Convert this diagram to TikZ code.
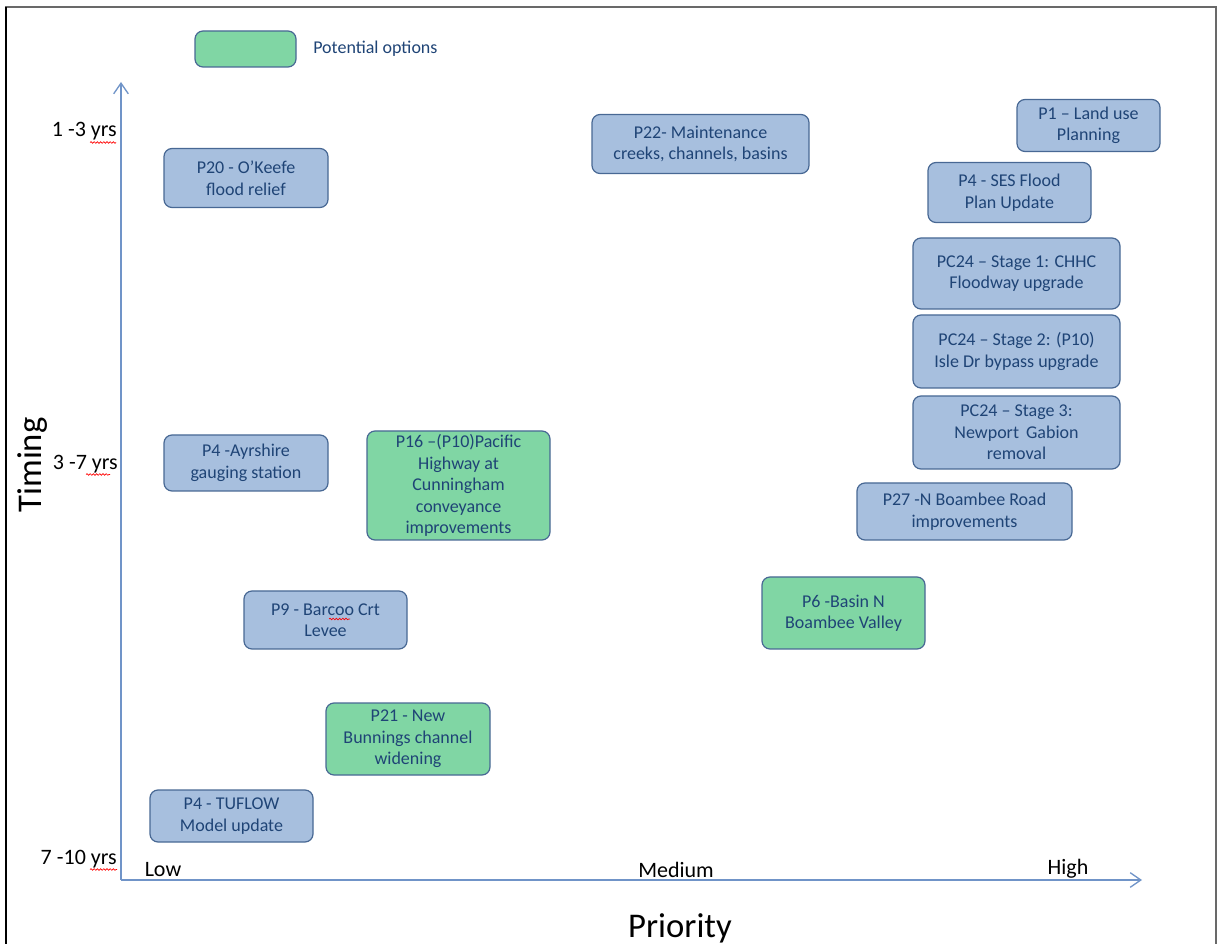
\documentclass[tikz,border=0pt]{standalone}
\usepackage{fontspec}
\setmainfont{Carlito}
\usetikzlibrary{arrows.meta,decorations.pathmorphing}

\definecolor{boxblue}{RGB}{167,191,222}
\definecolor{boxgreen}{RGB}{128,214,164}
\definecolor{boxline}{RGB}{72,104,148}
\definecolor{boxtext}{RGB}{31,68,118}
\definecolor{axisblue}{RGB}{112,148,200}
\definecolor{framegray}{RGB}{105,105,105}

\tikzset{
  optbox/.style={draw=boxline, line width=0.9pt, fill=boxblue, rounded corners=6pt,
    align=center, text=boxtext, inner sep=0pt, font=\fontsize{13.5}{16.1}\selectfont},
  potbox/.style={optbox, fill=boxgreen},
  axislbl/.style={inner sep=0pt, font=\fontsize{16.5}{19}\selectfont},
  axistitle/.style={inner sep=0pt, font=\fontsize{26}{30}\selectfont},
  axisline/.style={draw=axisblue, line width=1pt, -{Straight Barb[length=8pt,width=11pt]}},
  spell/.style={draw=red, line width=0.5pt, decorate,
    decoration={snake, amplitude=0.6pt, segment length=2.4pt}}
}

\begin{document}
\begin{tikzpicture}[x=0.75pt,y=0.75pt,yscale=-1,xscale=1]
\useasboundingbox (0,0) rectangle (1218,944);

%Frame
\draw [framegray, line width=1.5pt] (6,944) -- (6,7) -- (1216,7) -- (1216,944);
\draw [black, line width=1.5pt] (6,7) -- (6,944);

%Axes
\coordinate (origin) at (121,880);
\coordinate (ytip) at (121,82);
\coordinate (xtip) at (1142,880);
\draw [axisline] (origin) -- (ytip);
\draw [axisline] (origin) -- (xtip);

%Legend
\node [potbox, minimum width=75.75pt, minimum height=27pt] (legend) at (245.5,49) {};
\node [anchor=west, inner sep=0pt, text=boxtext, font=\fontsize{13.5}{16}\selectfont] (legendtxt) at (313,48.5) {Potential options};

% Text Node
\node [axislbl, anchor=east] (t13) at (117,131) {1 -3 yrs};
\node [axislbl, anchor=east] (t37) at (118,464) {3 -7 yrs};
\node [axislbl, anchor=east] (t710) at (117,859) {7 -10 yrs};
\node [axistitle, rotate=90] (timing) at (33,465) {Timing};
\node [axislbl] (low) at (163,870) {Low};
\node [axislbl] (medium) at (676,870) {Medium};
\node [axislbl] (high) at (1068,869) {High};
\node [axistitle] (priority) at (680,928) {Priority};

%spell check marks
\draw [spell] (90,142.5) -- (116,142.5);
\draw [spell] (86,474.5) -- (110,474.5);
\draw [spell] (90,869.5) -- (117,869.5);

%Options
\node [optbox, minimum width=123pt, minimum height=44.25pt] (p20) at (246,178) {P20 - O’Keefe\\flood relief};
\node [optbox, minimum width=162.75pt, minimum height=44.25pt] (p22) at (700.5,144) {P22- Maintenance\\creeks, channels, basins};
\node [optbox, minimum width=107.25pt, minimum height=39pt] (p1) at (1088.5,125.5) {P1 – Land use\\Planning};
\node [optbox, minimum width=122.25pt, minimum height=45pt] (p4ses) at (1009.5,192.5) {P4 - SES Flood\\Plan Update};
\node [optbox, minimum width=155.25pt, minimum height=53.25pt] (pc24a) at (1016.5,273.5) {PC24 – Stage 1: CHHC\\Floodway upgrade};
\node [optbox, minimum width=155.25pt, minimum height=54.75pt] (pc24b) at (1016.5,351.5) {PC24 – Stage 2: (P10)\\Isle Dr bypass upgrade};
\node [optbox, minimum width=155.25pt, minimum height=54.75pt] (pc24c) at (1016.5,432.5) {PC24 – Stage 3:\\Newport\, Gabion\\removal};
\node [optbox, minimum width=161.25pt, minimum height=42.75pt] (p27) at (964.5,511.5) {P27 -N Boambee Road\\improvements};
\node [potbox, minimum width=122.25pt, minimum height=54pt] (p6) at (843.5,613) {P6 -Basin N\\Boambee Valley};
\node [optbox, minimum width=123pt, minimum height=42pt] (p4ayr) at (246,463) {P4 -Ayrshire\\gauging station};
\node [potbox, minimum width=137.25pt, minimum height=81.75pt] (p16) at (458.5,485.5) {P16 –(P10)Pacific\\Highway at\\Cunningham\\conveyance\\improvements};
\node [optbox, minimum width=122.25pt, minimum height=43.5pt] (p9) at (325.5,620) {P9 - Barcoo Crt\\Levee};
\node [potbox, minimum width=123pt, minimum height=54pt] (p21) at (408,739) {P21 - New\\Bunnings channel\\widening};
\node [optbox, minimum width=122.25pt, minimum height=39pt] (p4tuf) at (231.5,816) {P4 - TUFLOW\\Model update};

\draw [spell] (329,619) -- (350,619);

\end{tikzpicture}
\end{document}
